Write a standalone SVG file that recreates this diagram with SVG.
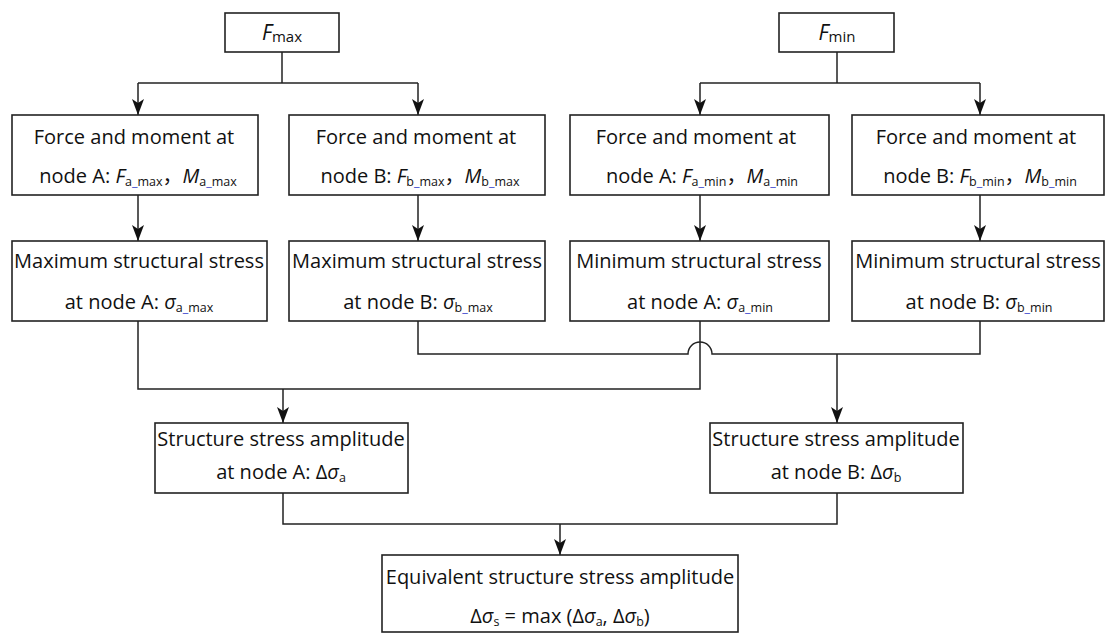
<svg xmlns="http://www.w3.org/2000/svg" width="1105" height="637" viewBox="0 0 1105 637">
  <defs>
    <marker id="arrow" markerUnits="userSpaceOnUse" markerWidth="16" markerHeight="12" viewBox="0 0 16 12" refX="16" refY="6" orient="auto">
      <path d="M0,0 L4,6 L0,12 L16,6 Z" fill="#111"/>
    </marker>
  </defs>
  <style>
    .box { fill: #fff; stroke: #222; stroke-width: 1.6; }
    .wire { fill: none; stroke: #222; stroke-width: 1.5; }
    .lbl { font-family: "Open Sans", "Noto Sans CJK SC", "DejaVu Sans", sans-serif; font-size: 20px; fill: #111; text-anchor: middle; }
    .it { font-style: italic; }
    .sub { font-size: 12.5px; }
    .us { fill: #3344cc; }
  </style>

  <rect width="1105" height="637" fill="#fff"/>

  <!-- connectors -->
  <g id="connectors">
    <!-- F_max fan-out -->
    <path class="wire" d="M282,52 V83"/>
    <path class="wire" d="M138,83 H418"/>
    <path class="wire" d="M138,83 V115" marker-end="url(#arrow)"/>
    <path class="wire" d="M418,83 V115" marker-end="url(#arrow)"/>
    <!-- F_min fan-out -->
    <path class="wire" d="M837,52 V83"/>
    <path class="wire" d="M700,83 H980"/>
    <path class="wire" d="M700,83 V115" marker-end="url(#arrow)"/>
    <path class="wire" d="M980,83 V115" marker-end="url(#arrow)"/>
    <!-- force/moment to stress -->
    <path class="wire" d="M138,195 V241" marker-end="url(#arrow)"/>
    <path class="wire" d="M418,195 V241" marker-end="url(#arrow)"/>
    <path class="wire" d="M700,195 V241" marker-end="url(#arrow)"/>
    <path class="wire" d="M980,195 V241" marker-end="url(#arrow)"/>
    <!-- node A: max + min merge -->
    <path class="wire" d="M138,321 V389 H700 V321"/>
    <path class="wire" d="M283,389 V423" marker-end="url(#arrow)"/>
    <!-- node B: max + min merge, hopping over the node A line -->
    <path class="wire" d="M418,321 V354 H688 A12,12 0 0 1 712,354 H980 V321"/>
    <path class="wire" d="M837,354 V423" marker-end="url(#arrow)"/>
    <!-- amplitudes to equivalent -->
    <path class="wire" d="M283,493 V524 H837 V493"/>
    <path class="wire" d="M560,524 V555" marker-end="url(#arrow)"/>
  </g>

  <!-- inputs -->
  <g id="fmax">
    <rect class="box" x="225" y="13" width="114" height="39"/>
    <text class="lbl" x="282" y="40"><tspan class="it" font-size="21">F</tspan><tspan font-size="15" dy="2">max</tspan></text>
  </g>
  <g id="fmin">
    <rect class="box" x="779" y="13" width="115" height="39"/>
    <text class="lbl" x="837" y="40"><tspan class="it" font-size="21">F</tspan><tspan font-size="15" dy="2">min</tspan></text>
  </g>

  <!-- forces and moments -->
  <g id="fm-a-max">
    <rect class="box" x="12" y="115" width="246" height="80"/>
    <text class="lbl" x="134" y="144">Force and moment at</text>
    <text class="lbl" x="138" y="183">node A: <tspan class="it">F</tspan><tspan class="sub" dy="3">a<tspan class="us">_</tspan>max</tspan><tspan dy="-3">，</tspan><tspan class="it">M</tspan><tspan class="sub" dy="3">a<tspan class="us">_</tspan>max</tspan></text>
  </g>
  <g id="fm-b-max">
    <rect class="box" x="289" y="115" width="256" height="80"/>
    <text class="lbl" x="416" y="144">Force and moment at</text>
    <text class="lbl" x="420" y="183">node B: <tspan class="it">F</tspan><tspan class="sub" dy="3">b<tspan class="us">_</tspan>max</tspan><tspan dy="-3">，</tspan><tspan class="it">M</tspan><tspan class="sub" dy="3">b<tspan class="us">_</tspan>max</tspan></text>
  </g>
  <g id="fm-a-min">
    <rect class="box" x="570" y="115" width="259" height="80"/>
    <text class="lbl" x="696" y="144">Force and moment at</text>
    <text class="lbl" x="702" y="183">node A: <tspan class="it">F</tspan><tspan class="sub" dy="3">a<tspan class="us">_</tspan>min</tspan><tspan dy="-3">，</tspan><tspan class="it">M</tspan><tspan class="sub" dy="3">a<tspan class="us">_</tspan>min</tspan></text>
  </g>
  <g id="fm-b-min">
    <rect class="box" x="852" y="115" width="252" height="80"/>
    <text class="lbl" x="976" y="144">Force and moment at</text>
    <text class="lbl" x="980" y="183">node B: <tspan class="it">F</tspan><tspan class="sub" dy="3">b<tspan class="us">_</tspan>min</tspan><tspan dy="-3">，</tspan><tspan class="it">M</tspan><tspan class="sub" dy="3">b<tspan class="us">_</tspan>min</tspan></text>
  </g>

  <!-- structural stresses -->
  <g id="stress-a-max">
    <rect class="box" x="12" y="241" width="255" height="80"/>
    <text class="lbl" x="139" y="268">Maximum structural stress</text>
    <text class="lbl" x="139" y="309">at node A: <tspan class="it">σ</tspan><tspan class="sub" dy="3">a<tspan class="us">_</tspan>max</tspan></text>
  </g>
  <g id="stress-b-max">
    <rect class="box" x="289" y="241" width="256" height="80"/>
    <text class="lbl" x="417" y="268">Maximum structural stress</text>
    <text class="lbl" x="418" y="309">at node B: <tspan class="it">σ</tspan><tspan class="sub" dy="3">b<tspan class="us">_</tspan>max</tspan></text>
  </g>
  <g id="stress-a-min">
    <rect class="box" x="570" y="241" width="259" height="80"/>
    <text class="lbl" x="699" y="268">Minimum structural stress</text>
    <text class="lbl" x="700" y="309">at node A: <tspan class="it">σ</tspan><tspan class="sub" dy="3">a<tspan class="us">_</tspan>min</tspan></text>
  </g>
  <g id="stress-b-min">
    <rect class="box" x="852" y="241" width="252" height="80"/>
    <text class="lbl" x="978" y="268">Minimum structural stress</text>
    <text class="lbl" x="979" y="309">at node B: <tspan class="it">σ</tspan><tspan class="sub" dy="3">b<tspan class="us">_</tspan>min</tspan></text>
  </g>

  <!-- amplitudes -->
  <g id="amp-a">
    <rect class="box" x="155" y="423" width="253" height="70"/>
    <text class="lbl" x="281" y="446">Structure stress amplitude</text>
    <text class="lbl" x="281" y="479">at node A: Δ<tspan class="it">σ</tspan><tspan class="sub" dy="3">a</tspan></text>
  </g>
  <g id="amp-b">
    <rect class="box" x="710" y="423" width="253" height="70"/>
    <text class="lbl" x="836" y="446">Structure stress amplitude</text>
    <text class="lbl" x="836" y="479">at node B: Δ<tspan class="it">σ</tspan><tspan class="sub" dy="3">b</tspan></text>
  </g>

  <!-- result -->
  <g id="equivalent">
    <rect class="box" x="382" y="555" width="356" height="77"/>
    <text class="lbl" x="560" y="584">Equivalent structure stress amplitude</text>
    <text class="lbl" x="560" y="623">Δ<tspan class="it">σ</tspan><tspan class="sub" dy="3">s</tspan><tspan dy="-3"> = max (Δ</tspan><tspan class="it">σ</tspan><tspan class="sub" dy="3">a</tspan><tspan dy="-3">, Δ</tspan><tspan class="it">σ</tspan><tspan class="sub" dy="3">b</tspan><tspan dy="-3">)</tspan></text>
  </g>
</svg>
